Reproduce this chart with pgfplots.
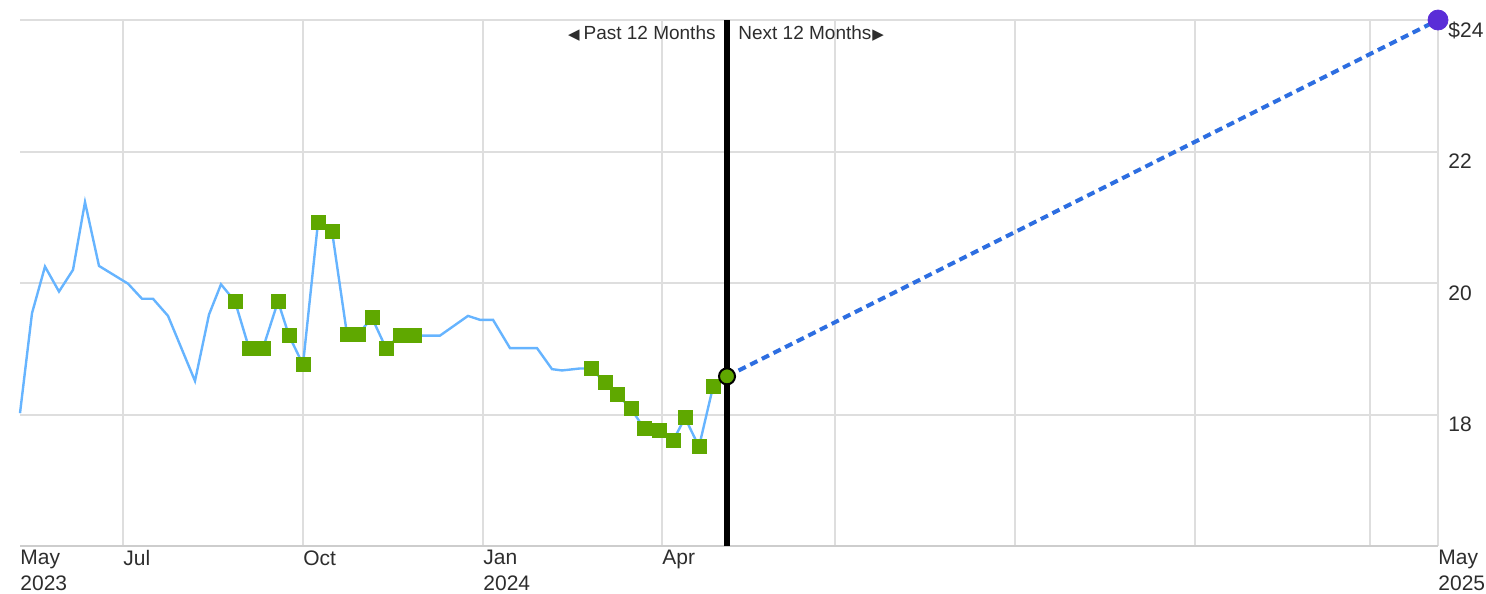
\documentclass[border=0pt]{standalone}
\usepackage{pgfplots}
\pgfplotsset{compat=1.18}
\usepackage{fontspec}
\setmainfont{Liberation Sans}
\newfontfamily\symfont{DejaVu Sans}
\definecolor{bluel}{RGB}{102,180,255}
\definecolor{greenm}{RGB}{95,168,0}
\definecolor{dashblue}{RGB}{45,110,225}
\definecolor{purp}{RGB}{90,45,215}
\definecolor{gridc}{RGB}{222,222,222}
\definecolor{axc}{RGB}{205,205,205}
\definecolor{txt}{RGB}{45,45,45}
\begin{document}
\begin{tikzpicture}
\begin{axis}[
  at={(0,0)}, anchor=south west,
  scale only axis, width=709bp, height=263bp,
  xmin=20, xmax=1438, ymin=16, ymax=24,
  clip=false,
  axis line style={draw=none},
  major tick length=0pt,
  grid=major,
  major grid style={gridc, line width=1bp},
  xtick={123,303,483,662,835,1015,1195,1370,1438},
  xticklabels={Jul,Oct,{Jan\\2024},Apr,,,,,{May\\2025}},
  extra x ticks={20},
  extra x tick labels={{May\\2023}},
  extra x tick style={grid=none},
  x tick label style={anchor=north west, align=left, inner sep=0pt, yshift=-2bp, text=txt,
    font=\fontsize{10.5bp}{13bp}\selectfont},
  ytick={18,20,22,24},
  yticklabels={18,20,22,\$24},
  yticklabel pos=right,
  y tick label style={anchor=north west, inner sep=0pt, xshift=5bp, yshift=-1bp, text=txt,
    font=\fontsize{10.5bp}{13bp}\selectfont},
]
\draw[axc, line width=1bp] (axis cs:20,16) -- (axis cs:1438,16);
% price history
\addplot[bluel, line width=1.2bp] coordinates {
(20,18.02) (32,19.54) (45,20.25) (59,19.87) (73,20.20) (85,21.23) (99,20.26)
(128,19.99) (142,19.76) (153,19.76) (168,19.50) (195,18.51) (209,19.52) (221,19.98)
(235,19.72) (249,19.01) (263,19.01) (278,19.72) (289,19.20) (303,18.76) (318,20.92)
(332,20.79) (347,19.22) (358,19.22) (372,19.47) (386,19.01) (400,19.20) (414,19.20)
(440,19.20) (468,19.50) (480,19.44) (493,19.44) (510,19.01) (537,19.01) (552,18.69)
(562,18.67) (580,18.70) (591,18.70) (605,18.49) (617,18.31) (631,18.09) (644,17.79)
(659,17.76) (673,17.60) (685,17.95) (699,17.51) (713,18.42) (727,18.58)
};
% rating markers
\addplot[only marks, mark=square*, mark size=3.5bp, greenm, mark options={draw=greenm, fill=greenm}] coordinates {
(235,19.72) (249,19.01) (263,19.01) (278,19.72) (289,19.20) (303,18.76) (318,20.92)
(332,20.79) (347,19.22) (358,19.22) (372,19.47) (386,19.01) (400,19.20) (414,19.20)
(591,18.70) (605,18.49) (617,18.31) (631,18.09) (644,17.79) (659,17.76) (673,17.60)
(685,17.95) (699,17.51) (713,18.42)
};
% divider
\addplot[black, line width=2.75bp] coordinates {(727,16) (727,24)};
% forecast
\addplot[dashblue, line width=2bp, dash pattern=on 4bp off 2.5bp] coordinates {(727,18.58) (1438,24)};
\addplot[only marks, mark=*, mark size=4bp, mark options={fill=greenm, draw=black, line width=1bp}] coordinates {(727,18.58)};
\addplot[only marks, mark=*, mark size=5bp, mark options={fill=purp, draw=purp}] coordinates {(1438,24)};
\node[anchor=base east, inner sep=0pt, text=txt, xshift=-5.5bp, yshift=-9.75bp, font=\fontsize{9.5bp}{11bp}\selectfont]
  at (axis cs:727,24) {{\symfont\fontsize{7.5bp}{8bp}\selectfont ◀}\kern2bp Past 12 Months};
\node[anchor=base west, inner sep=0pt, text=txt, xshift=5.5bp, yshift=-9.75bp, font=\fontsize{9.5bp}{11bp}\selectfont]
  at (axis cs:727,24) {Next 12 Months\kern0.5bp{\symfont\fontsize{7.5bp}{8bp}\selectfont ▶}};
\end{axis}
\pgfresetboundingbox
\path (-10bp,-24bp) rectangle (733bp,273bp);
\end{tikzpicture}
\end{document}
